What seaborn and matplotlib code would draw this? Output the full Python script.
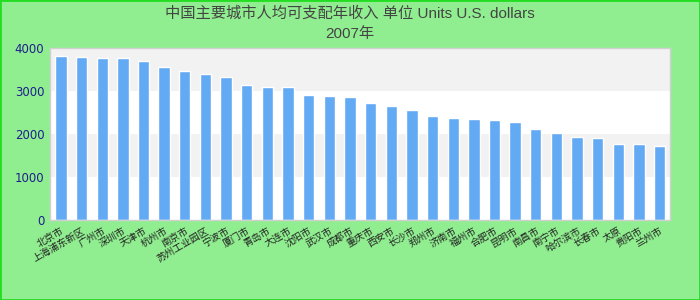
import matplotlib
matplotlib.use("Agg")
import matplotlib.pyplot as plt
from matplotlib.patches import Rectangle
import seaborn as sns
import pandas as pd

categories = ["北京市", "上海浦东新区", "广州市", "深圳市", "天津市", "杭州市", "南京市",
              "苏州工业园区", "宁波市", "厦门市", "青岛市", "大连市", "沈阳市", "武汉市",
              "成都市", "重庆市", "西安市", "长沙市", "郑州市", "济南市", "福州市",
              "合肥市", "昆明市", "南昌市", "南宁市", "哈尔滨市", "长春市", "太原", "贵阳市",
              "兰州市"]
values = [3820, 3800, 3775, 3770, 3705, 3565, 3470, 3400, 3330, 3145, 3100, 3100,
          2915, 2890, 2865, 2725, 2655, 2565, 2425, 2375, 2355, 2330, 2285, 2120,
          2030, 1935, 1910, 1775, 1775, 1725]
yticks = [0, 1000, 2000, 3000, 4000]
title_text = "中国主要城市人均可支配年收入 单位 Units U.S. dollars\n2007年"

df = pd.DataFrame({"category": categories, "value": values})

sns.set_theme(style="white")
plt.rcParams["font.family"] = ["Noto Sans CJK SC", "DejaVu Sans"]

fig = plt.figure(figsize=(7, 3), dpi=100, facecolor="#90ee90")
ax = fig.add_axes([50 / 700, 1 - 220 / 300, 620 / 700, 172 / 300])
ax.set_facecolor("white")

for i in range(len(yticks) - 1):
    if i % 2 == 1:
        ax.axhspan(yticks[i], yticks[i + 1], color="#f2f2f2", zorder=0, lw=0)

sns.barplot(data=df, x="category", y="value", color="#63aaf5", saturation=1,
            width=0.55, ax=ax, zorder=2)

ax.set_ylim(0, 4000)
ax.set_xlim(-0.53, len(categories) - 0.5)
ax.set_yticks(yticks)
ax.set_yticklabels([str(v) for v in yticks], color="#1e1e8c", fontsize=8.5,
                   family=["DejaVu Sans"])
ax.tick_params(axis="both", length=0, pad=4)
ax.set_xticks(range(len(categories)))
ax.set_xticklabels(categories, rotation=30, ha="right", rotation_mode="anchor",
                   fontsize=7, color="#222222")
ax.set_xlabel("")
ax.set_ylabel("")
for s in ax.spines.values():
    s.set_color("#d0d0d0")
    s.set_linewidth(1)

fig.suptitle(title_text, y=0.98, fontsize=11, color="#444444", linespacing=1.55,
             family=["Liberation Sans", "Noto Sans CJK SC"])

fig.patches.append(Rectangle((0, 0), 1, 1, transform=fig.transFigure, fill=False,
                             edgecolor="#22dd22", linewidth=2))

fig.savefig("out.png", dpi=100, facecolor=fig.get_facecolor())
